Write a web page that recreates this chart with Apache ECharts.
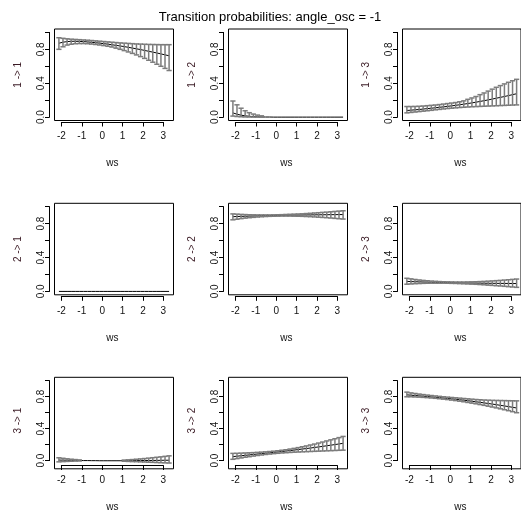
<!DOCTYPE html>
<html><head><meta charset="utf-8">
<script src="https://cdn.jsdelivr.net/npm/echarts@6/dist/echarts.min.js"></script>
<style>html,body{margin:0;padding:0;background:#fff}#c{width:521px;height:513px}</style>
</head><body><div id="c"></div>
<script>
// ---------- data ----------
const titleText = 'Transition probabilities: angle_osc = -1';
const xName = 'ws';
const xTicks = [-2, -1, 0, 1, 2, 3];
const yTicks = [0, 0.2, 0.4, 0.6, 0.8, 1.0];
const yTickLabels = ['0.0', '', '0.4', '', '0.8', ''];
const panelNames = ['1 -> 1', '1 -> 2', '1 -> 3', '2 -> 1', '2 -> 2', '2 -> 3', '3 -> 1', '3 -> 2', '3 -> 3'];

const ws = [-2.12, -1.92, -1.72, -1.52, -1.32, -1.12, -0.92, -0.72, -0.52, -0.32, -0.12, 0.08, 0.28, 0.48,
            0.68, 0.88, 1.08, 1.28, 1.48, 1.68, 1.88, 2.08, 2.28, 2.48, 2.68, 2.88, 3.08, 3.28];

const p11 = [0.872,0.884,0.891,0.895,0.895,0.894,0.891,0.888,0.883,0.878,0.873,0.867,0.861,0.854,0.847,0.840,0.832,0.824,0.815,0.806,0.797,0.787,0.777,0.767,0.757,0.746,0.735,0.724];
const p11Lo = [0.800,0.830,0.850,0.860,0.866,0.868,0.868,0.866,0.862,0.857,0.851,0.844,0.836,0.827,0.814,0.800,0.785,0.769,0.752,0.734,0.714,0.693,0.671,0.648,0.624,0.600,0.575,0.550];
const p11Hi = [0.937,0.930,0.924,0.920,0.917,0.914,0.911,0.908,0.904,0.900,0.896,0.892,0.888,0.884,0.880,0.876,0.873,0.870,0.867,0.864,0.862,0.860,0.858,0.857,0.856,0.855,0.855,0.855];

const p12 = [0.050,0.034,0.023,0.015,0.010,0.006,0.004,0.002,0.001,0.001,0,0,0,0,0,0,0,0,0,0,0,0,0,0,0,0,0,0];
const p12Lo = [0.012,0.007,0.004,0.002,0.001,0,0,0,0,0,0,0,0,0,0,0,0,0,0,0,0,0,0,0,0,0,0,0];
const p12Hi = [0.190,0.145,0.105,0.075,0.052,0.036,0.024,0.015,0.010,0.006,0.004,0.002,0.001,0.001,0,0,0,0,0,0,0,0,0,0,0,0,0,0];

const p13 = [0.078,0.082,0.086,0.090,0.095,0.100,0.105,0.110,0.116,0.121,0.127,0.133,0.139,0.146,0.153,0.160,0.168,0.176,0.185,0.194,0.203,0.213,0.223,0.233,0.243,0.254,0.265,0.276];
const p13Lo = [0.050,0.055,0.060,0.065,0.070,0.075,0.080,0.086,0.091,0.096,0.101,0.105,0.109,0.113,0.116,0.119,0.122,0.124,0.126,0.128,0.130,0.132,0.134,0.136,0.138,0.140,0.142,0.144];
const p13Hi = [0.125,0.125,0.126,0.128,0.131,0.135,0.139,0.143,0.148,0.154,0.160,0.166,0.172,0.181,0.192,0.210,0.226,0.243,0.265,0.285,0.307,0.330,0.352,0.372,0.392,0.411,0.429,0.446];

const p21 = [0,0,0,0,0,0,0,0,0,0,0,0,0,0,0,0,0,0,0,0,0,0,0,0,0,0,0,0];
const p21Lo = [0,0,0,0,0,0,0,0,0,0,0,0,0,0,0,0,0,0,0,0,0,0,0,0,0,0,0,0];
const p21Hi = [0,0,0,0,0,0,0,0,0,0,0,0,0,0,0,0,0,0,0,0,0,0,0,0,0,0,0,0];

const p22 = [0.882,0.884,0.886,0.887,0.889,0.890,0.892,0.893,0.894,0.895,0.896,0.897,0.898,0.899,0.900,0.901,0.901,0.902,0.903,0.903,0.904,0.904,0.905,0.905,0.906,0.906,0.907,0.907];
const p22Lo = [0.845,0.852,0.859,0.865,0.870,0.874,0.878,0.881,0.884,0.886,0.887,0.888,0.889,0.889,0.889,0.888,0.887,0.886,0.884,0.882,0.879,0.876,0.873,0.870,0.866,0.862,0.858,0.854];
const p22Hi = [0.915,0.912,0.909,0.907,0.905,0.904,0.903,0.903,0.903,0.903,0.904,0.905,0.906,0.908,0.910,0.912,0.914,0.916,0.919,0.922,0.926,0.929,0.933,0.936,0.940,0.944,0.948,0.952];

const p23 = [0.118,0.116,0.114,0.113,0.111,0.110,0.108,0.107,0.106,0.105,0.104,0.103,0.102,0.101,0.100,0.099,0.099,0.098,0.097,0.097,0.096,0.096,0.095,0.095,0.094,0.094,0.093,0.093];
const p23Lo = [0.085,0.088,0.091,0.093,0.095,0.096,0.097,0.097,0.097,0.097,0.096,0.095,0.094,0.092,0.090,0.088,0.086,0.084,0.081,0.078,0.074,0.071,0.067,0.064,0.060,0.056,0.052,0.048];
const p23Hi = [0.155,0.148,0.141,0.135,0.130,0.126,0.122,0.119,0.116,0.114,0.113,0.112,0.111,0.111,0.111,0.112,0.113,0.114,0.116,0.118,0.121,0.124,0.127,0.130,0.134,0.138,0.142,0.146];

const p31 = [0.063,0.062,0.061,0.060,0.059,0.058,0.057,0.057,0.056,0.056,0.055,0.055,0.055,0.055,0.055,0.055,0.056,0.056,0.056,0.057,0.057,0.058,0.058,0.059,0.059,0.060,0.061,0.061];
const p31Lo = [0.042,0.045,0.047,0.049,0.051,0.052,0.053,0.053,0.054,0.054,0.054,0.054,0.053,0.052,0.051,0.050,0.049,0.047,0.045,0.044,0.042,0.040,0.038,0.036,0.034,0.032,0.030,0.028];
const p31Hi = [0.090,0.084,0.078,0.073,0.069,0.065,0.062,0.060,0.058,0.057,0.056,0.056,0.057,0.058,0.059,0.061,0.063,0.066,0.069,0.073,0.077,0.081,0.086,0.091,0.096,0.101,0.107,0.113];

const p32 = [0.104,0.109,0.114,0.119,0.124,0.129,0.134,0.139,0.144,0.149,0.154,0.159,0.164,0.170,0.175,0.181,0.187,0.193,0.199,0.205,0.212,0.218,0.225,0.232,0.239,0.246,0.253,0.261];
const p32Lo = [0.072,0.080,0.088,0.096,0.103,0.110,0.117,0.123,0.129,0.134,0.139,0.143,0.147,0.150,0.153,0.156,0.158,0.160,0.162,0.164,0.166,0.168,0.170,0.172,0.174,0.176,0.178,0.180];
const p32Hi = [0.142,0.143,0.145,0.147,0.149,0.151,0.154,0.157,0.160,0.164,0.168,0.173,0.179,0.185,0.193,0.201,0.210,0.220,0.230,0.241,0.252,0.264,0.276,0.289,0.302,0.315,0.328,0.342];

const p33 = [0.833,0.829,0.825,0.821,0.817,0.813,0.809,0.804,0.800,0.795,0.791,0.786,0.781,0.775,0.770,0.764,0.757,0.751,0.745,0.738,0.731,0.724,0.717,0.709,0.702,0.694,0.686,0.678];
const p33Lo = [0.810,0.810,0.808,0.806,0.803,0.800,0.796,0.792,0.787,0.782,0.777,0.771,0.765,0.758,0.751,0.743,0.735,0.727,0.718,0.709,0.699,0.689,0.679,0.668,0.657,0.646,0.634,0.622];
const p33Hi = [0.865,0.856,0.849,0.842,0.836,0.830,0.825,0.820,0.815,0.810,0.806,0.802,0.798,0.794,0.790,0.786,0.782,0.778,0.775,0.772,0.770,0.768,0.767,0.766,0.765,0.764,0.763,0.762];

const means = [p11, p12, p13, p21, p22, p23, p31, p32, p33];
const lows  = [p11Lo, p12Lo, p13Lo, p21Lo, p22Lo, p23Lo, p31Lo, p32Lo, p33Lo];
const highs = [p11Hi, p12Hi, p13Hi, p21Hi, p22Hi, p23Hi, p31Hi, p32Hi, p33Hi];

// ---------- layout ----------
const FONT = "'Liberation Sans', Arial, sans-serif";
const colLeft = [54.5, 228.5, 402.5];
const rowTop = [29, 203.3, 377.3];
const boxW = 119, boxH = 91.5;
const yAxisGap = 5;    // y axis line sits this far left of the box
const xAxisGap = 1.5;  // x axis line sits this far below the box
const xSpan = ws[ws.length - 1] - ws[0];
const xMin = ws[0] - 0.04 * xSpan, xMax = ws[ws.length - 1] + 0.04 * xSpan;
const yMin = -0.04, yMax = 1.04;

const grids = [], xAxes = [], yAxes = [], series = [];

function barRenderer(params, api) {
  const x = api.value(0), lo = api.value(1), hi = api.value(2);
  const a = api.coord([x, lo]), b = api.coord([x, hi]);
  if (Math.abs(a[1] - b[1]) < 1) return null;
  const cw = 2.6;
  const st = { stroke: '#7c7c7c', lineWidth: 1.5, fill: null };
  return { type: 'group', children: [
    { type: 'line', shape: { x1: a[0], y1: a[1], x2: b[0], y2: b[1] }, style: st },
    { type: 'line', shape: { x1: a[0] - cw, y1: a[1], x2: a[0] + cw, y2: a[1] }, style: st },
    { type: 'line', shape: { x1: b[0] - cw, y1: b[1], x2: b[0] + cw, y2: b[1] }, style: st }
  ]};
}

for (let k = 0; k < 9; k++) {
  const r = Math.floor(k / 3), c = k % 3;
  const L = colLeft[c], T = rowTop[r];
  grids.push({ left: L, top: T, width: boxW, height: boxH, show: true, borderColor: '#000', borderWidth: 1, backgroundColor: 'transparent' });
  const gBox = grids.length - 1;
  xAxes.push({ gridIndex: gBox, type: 'value', min: xMin, max: xMax, show: false });
  yAxes.push({ gridIndex: gBox, type: 'value', min: yMin, max: yMax, show: false });
  const axL = L + (xTicks[0] - xMin) / (xMax - xMin) * boxW;
  const axW = (xTicks[xTicks.length - 1] - xTicks[0]) / (xMax - xMin) * boxW;
  const axT = T + (yMax - yTicks[yTicks.length - 1]) / (yMax - yMin) * boxH;
  const axH = (yTicks[yTicks.length - 1] - yTicks[0]) / (yMax - yMin) * boxH;
  grids.push({ left: axL, top: axT, width: axW, height: axH, show: false });
  const gAx = grids.length - 1;
  const offX = (T + boxH) - (axT + axH) + xAxisGap;
  const offY = axL - L + yAxisGap;
  xAxes.push({
    gridIndex: gAx, type: 'value', min: xTicks[0], max: xTicks[xTicks.length - 1], interval: 1,
    position: 'bottom', offset: offX,
    axisLine: { show: true, onZero: false, lineStyle: { color: '#000', width: 1 } },
    axisTick: { show: true, length: 4.5, lineStyle: { color: '#000' } },
    axisLabel: { fontSize: 10, color: '#111', fontFamily: FONT, margin: 9.5,
                 formatter: v => String(Math.round(v)) },
    splitLine: { show: false },
    name: xName, nameLocation: 'middle', nameGap: 36.5,
    nameTextStyle: { fontSize: 10, color: '#111', fontFamily: FONT }
  });
  yAxes.push({
    gridIndex: gAx, type: 'value', min: 0, max: 1, interval: 0.2, position: 'left', offset: offY,
    axisLine: { show: true, onZero: false, lineStyle: { color: '#000', width: 1 } },
    axisTick: { show: true, length: 4.5, lineStyle: { color: '#000' } },
    axisLabel: { fontSize: 10, color: '#111', fontFamily: FONT, rotate: 90, margin: 3,
                 formatter: (v) => { const i = yTicks.findIndex(t => Math.abs(t - v) < 1e-6); return i >= 0 ? yTickLabels[i] : ''; } },
    splitLine: { show: false },
    name: panelNames[k], nameLocation: 'middle', nameGap: 26, nameRotate: 90,
    nameTextStyle: { fontSize: 10, color: '#3a1a24', fontFamily: FONT }
  });
  const xi = xAxes.length - 2, yi = yAxes.length - 2;
  series.push({
    type: 'line', xAxisIndex: xi, yAxisIndex: yi, symbol: 'none', silent: true, z: 2,
    lineStyle: { color: '#000', width: 1 },
    data: ws.map((x, i) => [x, means[k][i]])
  });
  series.push({
    type: 'custom', xAxisIndex: xi, yAxisIndex: yi, silent: true, z: 3,
    renderItem: barRenderer, encode: { x: 0, y: [1, 2] },
    data: ws.map((x, i) => [x, lows[k][i], highs[k][i]])
  });
}

const chart = echarts.init(document.getElementById('c'), null, { renderer: 'canvas' });
chart.setOption({
  animation: false,
  backgroundColor: '#fff',
  graphic: [{ type: 'text', x: 270, y: 17, style: { text: titleText, align: 'center', verticalAlign: 'middle',
              fontSize: 13, fontFamily: FONT, fill: '#000' } }],
  grid: grids, xAxis: xAxes, yAxis: yAxes, series: series
});
</script>
</body></html>
